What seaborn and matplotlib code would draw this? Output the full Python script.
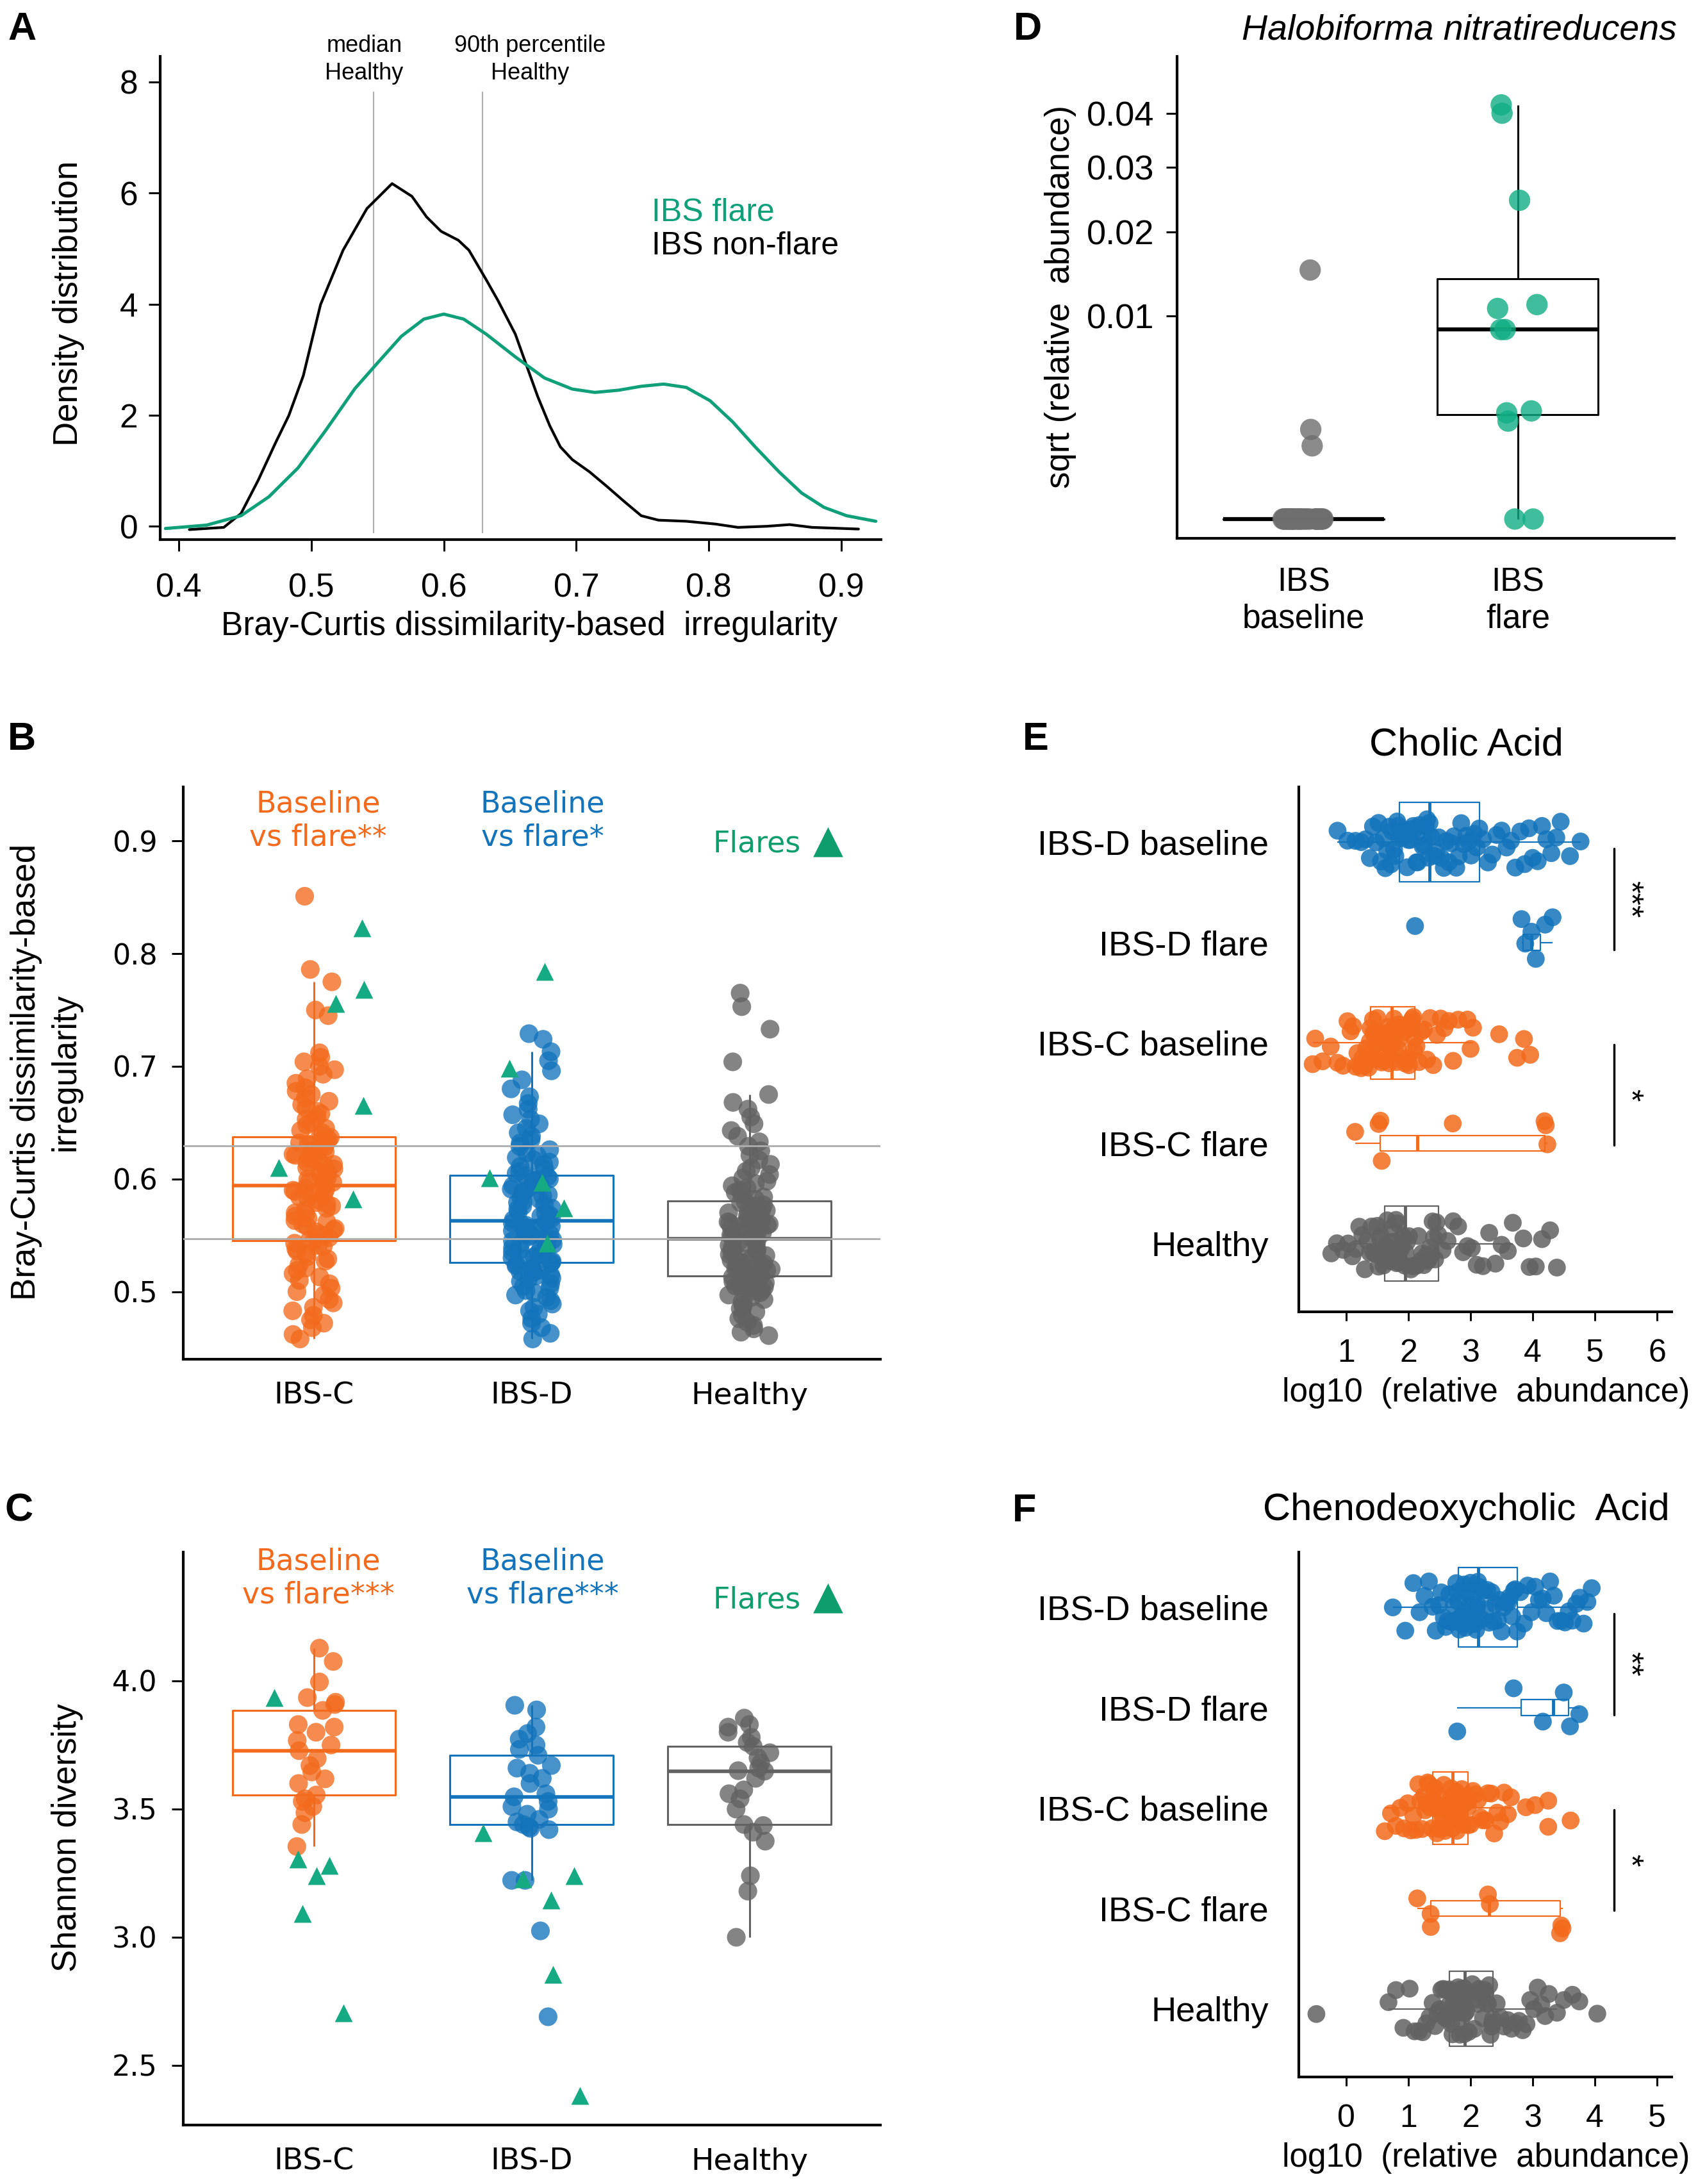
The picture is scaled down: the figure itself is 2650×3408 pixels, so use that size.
import numpy as np
import pandas as pd
import seaborn as sns
import matplotlib.pyplot as plt

W, H = 2650, 3408

ORANGE = '#F36A1C'
BLUE = '#1374BB'
GREY = '#626262'
GREEN = '#15AA82'
GREEN_TXT = '#0E9E6E'

# ---- A: density curves
nonflare_x = [0.408, 0.434, 0.447, 0.460, 0.473, 0.483, 0.494, 0.507, 0.524, 0.542, 0.561,
              0.576, 0.587, 0.598, 0.611, 0.619, 0.632, 0.641, 0.654, 0.663, 0.671, 0.680,
              0.688, 0.697, 0.710, 0.723, 0.736, 0.749, 0.762, 0.783, 0.805, 0.822, 0.844,
              0.861, 0.878, 0.913]
nonflare_y = [-0.06, -0.02, 0.23, 0.83, 1.50, 1.99, 2.71, 3.99, 4.97, 5.72, 6.17,
              5.94, 5.57, 5.31, 5.15, 4.97, 4.44, 4.06, 3.46, 2.86, 2.33, 1.81,
              1.43, 1.20, 0.98, 0.72, 0.45, 0.19, 0.11, 0.09, 0.04, -0.02, 0.0,
              0.03, -0.02, -0.05]
flare_x = [0.390, 0.421, 0.447, 0.468, 0.490, 0.511, 0.533, 0.550, 0.568, 0.585, 0.600,
           0.615, 0.632, 0.654, 0.676, 0.697, 0.714, 0.732, 0.749, 0.766, 0.783, 0.801,
           0.818, 0.835, 0.853, 0.870, 0.887, 0.904, 0.926]
flare_y = [-0.04, 0.02, 0.19, 0.53, 1.05, 1.73, 2.48, 2.94, 3.42, 3.73, 3.82,
           3.73, 3.46, 3.05, 2.67, 2.47, 2.41, 2.45, 2.52, 2.56, 2.50, 2.26,
           1.88, 1.43, 0.98, 0.60, 0.34, 0.19, 0.09]

# ---- B: Bray-Curtis irregularity
irr_groups = ['IBS-C', 'IBS-D', 'Healthy']
irr_ibsc = [0.458, 0.462, 0.468, 0.472, 0.475, 0.479, 0.483, 0.486, 0.49, 0.493, 0.497, 0.5,
            0.503, 0.507, 0.51, 0.513, 0.516, 0.519, 0.521, 0.524, 0.527, 0.529, 0.531, 0.534,
            0.536, 0.538, 0.54, 0.541, 0.543, 0.544, 0.546, 0.548, 0.55, 0.551, 0.553, 0.555,
            0.556, 0.558, 0.56, 0.562, 0.563, 0.565, 0.567, 0.569, 0.57, 0.572, 0.574, 0.576,
            0.578, 0.579, 0.581, 0.583, 0.584, 0.586, 0.587, 0.589, 0.59, 0.591, 0.592, 0.593,
            0.595, 0.597, 0.598, 0.6, 0.601, 0.603, 0.604, 0.606, 0.607, 0.609, 0.61, 0.612,
            0.613, 0.615, 0.616, 0.618, 0.619, 0.621, 0.622, 0.624, 0.625, 0.627, 0.628, 0.63,
            0.631, 0.632, 0.633, 0.635, 0.636, 0.637, 0.639, 0.641, 0.643, 0.645, 0.648, 0.65,
            0.653, 0.655, 0.658, 0.66, 0.663, 0.666, 0.669, 0.672, 0.675, 0.678, 0.681, 0.685,
            0.689, 0.693, 0.697, 0.7, 0.704, 0.708, 0.712, 0.745, 0.75, 0.775, 0.786, 0.851]
irr_ibsd = [0.458, 0.463, 0.468, 0.472, 0.476, 0.48, 0.483, 0.486, 0.489, 0.492, 0.495, 0.497,
            0.499, 0.501, 0.503, 0.505, 0.507, 0.509, 0.511, 0.512, 0.514, 0.515, 0.517, 0.518,
            0.519, 0.52, 0.521, 0.523, 0.524, 0.525, 0.526, 0.527, 0.529, 0.53, 0.531, 0.533,
            0.534, 0.535, 0.537, 0.538, 0.539, 0.541, 0.542, 0.543, 0.545, 0.546, 0.547, 0.549,
            0.55, 0.551, 0.552, 0.554, 0.555, 0.556, 0.557, 0.558, 0.559, 0.56, 0.561, 0.562,
            0.564, 0.565, 0.567, 0.568, 0.57, 0.571, 0.573, 0.574, 0.576, 0.577, 0.579, 0.58,
            0.582, 0.583, 0.585, 0.586, 0.588, 0.589, 0.591, 0.592, 0.594, 0.595, 0.596, 0.597,
            0.598, 0.599, 0.6, 0.601, 0.602, 0.603, 0.605, 0.607, 0.609, 0.611, 0.613, 0.615,
            0.617, 0.619, 0.621, 0.623, 0.626, 0.629, 0.632, 0.635, 0.638, 0.641, 0.645, 0.649,
            0.653, 0.657, 0.662, 0.667, 0.673, 0.68, 0.688, 0.696, 0.705, 0.713, 0.724, 0.729]
irr_healthy = [0.461, 0.464, 0.467, 0.47, 0.473, 0.476, 0.479, 0.482, 0.485, 0.487, 0.489, 0.491,
               0.493, 0.495, 0.497, 0.499, 0.5, 0.501, 0.502, 0.503, 0.504, 0.505, 0.506, 0.507,
               0.508, 0.509, 0.51, 0.511, 0.512, 0.513, 0.514, 0.515, 0.516, 0.517, 0.518, 0.519,
               0.52, 0.521, 0.522, 0.523, 0.524, 0.525, 0.526, 0.527, 0.528, 0.529, 0.531, 0.532,
               0.533, 0.535, 0.536, 0.537, 0.538, 0.539, 0.541, 0.542, 0.543, 0.544, 0.545, 0.546,
               0.548, 0.549, 0.55, 0.551, 0.552, 0.553, 0.555, 0.556, 0.557, 0.558, 0.559, 0.56,
               0.561, 0.562, 0.563, 0.564, 0.565, 0.566, 0.567, 0.568, 0.569, 0.57, 0.571, 0.572,
               0.573, 0.574, 0.576, 0.577, 0.579, 0.58, 0.582, 0.584, 0.586, 0.588, 0.59, 0.592,
               0.594, 0.596, 0.598, 0.601, 0.604, 0.607, 0.61, 0.613, 0.617, 0.621, 0.625, 0.629,
               0.633, 0.638, 0.643, 0.649, 0.655, 0.662, 0.668, 0.675, 0.704, 0.733, 0.753, 0.765]
irr_flare_ibsc = [0.823, 0.768, 0.756, 0.665, 0.61, 0.582]
irr_flare_ibsd = [0.784, 0.698, 0.597, 0.601, 0.574, 0.543]

# ---- C: Shannon diversity
shan_ibsc = [3.354, 3.44, 3.486, 3.51, 3.53, 3.54, 3.555, 3.6, 3.618, 3.645, 3.67, 3.697, 3.728,
             3.75, 3.768, 3.8, 3.82, 3.83, 3.885, 3.908, 3.917, 3.935, 3.996, 4.076, 4.128]
shan_ibsd = [2.69, 3.025, 3.222, 3.222, 3.42, 3.425, 3.43, 3.44, 3.45, 3.46, 3.48, 3.5, 3.51,
             3.53, 3.548, 3.56, 3.6, 3.62, 3.64, 3.66, 3.67, 3.71, 3.733, 3.75, 3.773, 3.795,
             3.82, 3.887, 3.905]
shan_healthy = [3.0, 3.18, 3.24, 3.375, 3.41, 3.436, 3.44, 3.5, 3.54, 3.56, 3.575, 3.62, 3.648,
                3.65, 3.66, 3.68, 3.7, 3.72, 3.745, 3.76, 3.78, 3.8, 3.82, 3.83, 3.855]
shan_flare_ibsc = [3.935, 3.305, 3.28, 3.24, 3.093, 2.706]
shan_flare_ibsd = [3.407, 3.24, 3.146, 3.228, 2.855, 2.383]

# ---- D: Halobiforma nitratireducens relative abundance
halo_groups = ['IBS\nbaseline', 'IBS\nflare']
halo_baseline = [0.01506, 0.00195, 0.0013, 0, 0, 0, 0, 0, 0, 0, 0, 0, 0, 0, 0, 0, 0, 0, 0, 0,
                 0, 0, 0, 0, 0, 0, 0, 0, 0, 0, 0, 0, 0, 0, 0, 0, 0, 0, 0]
halo_flare = [0.04166, 0.04, 0.02468, 0.01117, 0.01077, 0.00872, 0.00872, 0.00284, 0.00274,
              0.00233, 0, 0]

# ---- E / F: bile acids, log10 relative abundance
bile_order = ['IBS-D baseline', 'IBS-D flare', 'IBS-C baseline', 'IBS-C flare', 'Healthy']
cholic = {
    'IBS-D baseline': [0.86, 1.02, 1.15, 1.24, 1.31, 1.38, 1.43, 1.48, 1.52, 1.56, 1.6, 1.63, 1.66,
                       1.69, 1.72, 1.74, 1.77, 1.79, 1.82, 1.84, 1.86, 1.88, 1.9, 1.93, 1.95, 1.98,
                       2.0, 2.03, 2.05, 2.08, 2.1, 2.13, 2.15, 2.18, 2.2, 2.23, 2.25, 2.28, 2.3,
                       2.32, 2.34, 2.37, 2.41, 2.45, 2.49, 2.53, 2.57, 2.61, 2.65, 2.69, 2.73,
                       2.77, 2.81, 2.85, 2.89, 2.93, 2.97, 3.01, 3.06, 3.1, 3.14, 3.2, 3.28, 3.35,
                       3.42, 3.5, 3.58, 3.65, 3.72, 3.8, 3.87, 3.94, 4.0, 4.08, 4.15, 4.22, 4.3,
                       4.38, 4.45, 4.6, 4.77],
    'IBS-D flare': [2.107, 3.82, 3.88, 3.98, 4.05, 4.2, 4.32],
    'IBS-C baseline': [0.46, 0.5, 0.62, 0.75, 0.86, 0.95, 1.02, 1.07, 1.11, 1.15, 1.18, 1.21, 1.24,
                       1.26, 1.28, 1.3, 1.32, 1.34, 1.36, 1.38, 1.39, 1.41, 1.43, 1.44, 1.46, 1.48,
                       1.5, 1.51, 1.53, 1.55, 1.57, 1.58, 1.6, 1.62, 1.64, 1.65, 1.67, 1.69, 1.7,
                       1.72, 1.73, 1.75, 1.77, 1.79, 1.81, 1.83, 1.85, 1.87, 1.89, 1.91, 1.93,
                       1.95, 1.97, 1.99, 2.01, 2.03, 2.05, 2.06, 2.08, 2.09, 2.1, 2.13, 2.17, 2.21,
                       2.25, 2.3, 2.35, 2.4, 2.46, 2.52, 2.58, 2.65, 2.72, 2.8, 2.95, 3.0, 3.04,
                       3.46, 3.75, 3.86, 3.96],
    'IBS-C flare': [1.143, 1.521, 1.55, 1.571, 2.714, 4.19, 4.21, 4.236],
    'Healthy': [0.76, 0.85, 0.95, 1.03, 1.1, 1.16, 1.21, 1.26, 1.3, 1.34, 1.38, 1.41, 1.44, 1.47,
                1.5, 1.52, 1.54, 1.56, 1.58, 1.6, 1.62, 1.64, 1.66, 1.68, 1.7, 1.71, 1.73, 1.75,
                1.76, 1.78, 1.8, 1.81, 1.83, 1.84, 1.86, 1.88, 1.89, 1.91, 1.92, 1.94, 1.95,
                1.98, 2.01, 2.04, 2.07, 2.1, 2.13, 2.16, 2.19, 2.22, 2.25, 2.28, 2.31, 2.33,
                2.35, 2.37, 2.39, 2.41, 2.43, 2.45, 2.48, 2.55, 2.63, 2.72, 2.8, 2.88, 2.95,
                3.02, 3.1, 3.2, 3.3, 3.4, 3.5, 3.6, 3.68, 3.85, 3.95, 4.05, 4.15, 4.28, 4.39],
}
cdca = {
    'IBS-D baseline': [0.75, 0.95, 1.08, 1.18, 1.26, 1.33, 1.39, 1.44, 1.49, 1.53, 1.57, 1.6, 1.63,
                       1.66, 1.69, 1.71, 1.73, 1.75, 1.77, 1.79, 1.8, 1.82, 1.84, 1.85, 1.87, 1.89,
                       1.9, 1.92, 1.94, 1.95, 1.97, 1.99, 2.0, 2.02, 2.04, 2.05, 2.07, 2.09, 2.1,
                       2.11, 2.12, 2.15, 2.18, 2.21, 2.24, 2.27, 2.3, 2.34, 2.37, 2.4, 2.44, 2.47,
                       2.5, 2.53, 2.57, 2.6, 2.63, 2.67, 2.7, 2.72, 2.75, 2.8, 2.86, 2.92, 2.98,
                       3.04, 3.1, 3.16, 3.22, 3.28, 3.34, 3.4, 3.46, 3.52, 3.58, 3.64, 3.7, 3.76,
                       3.82, 3.88, 3.95],
    'IBS-D flare': [1.786, 2.693, 3.164, 3.5, 3.6, 3.75],
    'IBS-C baseline': [0.62, 0.72, 0.8, 0.87, 0.93, 0.99, 1.04, 1.08, 1.12, 1.16, 1.19, 1.22, 1.25,
                       1.27, 1.29, 1.31, 1.33, 1.35, 1.37, 1.38, 1.39, 1.41, 1.43, 1.44, 1.46,
                       1.48, 1.5, 1.52, 1.54, 1.55, 1.57, 1.59, 1.6, 1.62, 1.64, 1.65, 1.67, 1.68,
                       1.69, 1.7, 1.71, 1.73, 1.74, 1.75, 1.77, 1.78, 1.79, 1.8, 1.82, 1.83, 1.84,
                       1.86, 1.87, 1.88, 1.9, 1.91, 1.92, 1.94, 1.95, 1.96, 1.96, 2.0, 2.04, 2.08,
                       2.12, 2.16, 2.2, 2.24, 2.28, 2.33, 2.38, 2.43, 2.48, 2.54, 2.6, 2.65, 2.89,
                       3.04, 3.25, 3.25, 3.61],
    'IBS-C flare': [1.143, 1.357, 1.36, 2.28, 2.31, 3.44, 3.46, 3.48],
    'Healthy': [-0.48, 0.68, 0.8, 0.92, 1.02, 1.1, 1.17, 1.23, 1.29, 1.34, 1.39, 1.43, 1.47, 1.5,
                1.53, 1.56, 1.59, 1.61, 1.63, 1.65, 1.66, 1.68, 1.69, 1.71, 1.72, 1.73, 1.75,
                1.76, 1.77, 1.79, 1.8, 1.81, 1.83, 1.84, 1.85, 1.87, 1.88, 1.89, 1.9, 1.9, 1.91,
                1.94, 1.97, 2.0, 2.03, 2.06, 2.09, 2.12, 2.14, 2.16, 2.18, 2.2, 2.22, 2.24,
                2.26, 2.28, 2.3, 2.32, 2.34, 2.35, 2.36, 2.42, 2.48, 2.54, 2.6, 2.66, 2.72,
                2.78, 2.84, 2.9, 2.96, 3.02, 3.08, 3.14, 3.2, 3.26, 3.39, 3.5, 3.64, 3.75, 4.04],
}

# ------------------------------------------------------------------
sns.set_style('ticks')
plt.rcParams['font.family'] = ['Liberation Sans', 'DejaVu Sans']
plt.rcParams.update({
    'font.size': 36, 'axes.linewidth': 3, 'axes.edgecolor': 'black',
    'xtick.color': 'black', 'ytick.color': 'black', 'text.color': 'black',
    'axes.labelcolor': 'black', 'xtick.major.width': 2.2, 'ytick.major.width': 2.2,
})
WIDE = ['DejaVu Sans']   # the B/C panels use a wider lettering
np.random.seed(11)

fig = plt.figure(figsize=(W / 100, H / 100), dpi=100)


def add_ax(left, top, right, bottom):
    ax = fig.add_axes([left / W, 1 - bottom / H, (right - left) / W, (bottom - top) / H])
    sns.despine(ax=ax)
    return ax


def ftext(x, y, s, **kw):
    fig.text(x / W, 1 - y / H, s, **kw)


for lab, x, y in [('A', 12, 62), ('B', 12, 1170), ('C', 8, 2374),
                  ('D', 1582, 62), ('E', 1596, 1170), ('F', 1580, 2374)]:
    ftext(x, y, lab, fontsize=44, fontweight='bold', va='baseline')

healthy_median = np.median(irr_healthy)
healthy_p90 = np.percentile(irr_healthy, 90)

# ---------------- A
axA = add_ax(250, 88, 1375, 842)
axA.vlines([healthy_median, healthy_p90], -0.13, 7.83, color='#B0B0B0', lw=1.6, zorder=0)
sns.lineplot(x=nonflare_x, y=nonflare_y, color='black', linewidth=3, sort=False,
             estimator=None, ax=axA)
sns.lineplot(x=flare_x, y=flare_y, color='#0FA07A', linewidth=3.6, sort=False,
             estimator=None, ax=axA)
axA.set_xlim(0.386, 0.93)
axA.set_ylim(-0.24, 8.46)
axA.set_xticks([0.4, 0.5, 0.6, 0.7, 0.8, 0.9])
axA.set_yticks([0, 2, 4, 6, 8])
axA.tick_params(axis='both', length=13, labelsize=37)
axA.tick_params(axis='x', pad=24)
axA.tick_params(axis='y', pad=12)
axA.set_xlabel('Bray-Curtis dissimilarity-based  irregularity', fontsize=37, va='center')
axA.xaxis.set_label_coords(0.512, -0.18)
axA.set_ylabel('Density distribution', fontsize=38, va='center')
axA.yaxis.set_label_coords(-0.127, 0.489)
axA.text(0.540, 8.40, 'median\nHealthy', ha='center', va='center', fontsize=26, linespacing=1.3)
axA.text(0.665, 8.40, '90th percentile\nHealthy', ha='center', va='center', fontsize=26,
         linespacing=1.3)
axA.text(0.757, 5.64, 'IBS flare', color='#0FA07A', va='center', fontsize=36)
axA.text(0.757, 5.04, 'IBS non-flare', va='center', fontsize=36)


# ---------------- B and C
def irr_panel(ax, base, flares, ylim, yticks, ytl, ylabel, lab_pos, lab_y, stars, flare_y):
    df = pd.DataFrame({'group': ['IBS-C'] * len(base[0]) + ['IBS-D'] * len(base[1])
                       + ['Healthy'] * len(base[2]),
                       'value': base[0] + base[1] + base[2]})
    dff = pd.DataFrame({'group': ['IBS-C'] * len(flares[0]) + ['IBS-D'] * len(flares[1]),
                        'value': flares[0] + flares[1]})
    pal = {'IBS-C': ORANGE, 'IBS-D': BLUE, 'Healthy': GREY}
    sns.boxplot(data=df, x='group', y='value', hue='group', order=irr_groups, palette=pal,
                fill=False, saturation=1, width=0.75, linewidth=2.2, showfliers=False,
                showcaps=False, medianprops={'linewidth': 4}, legend=False, ax=ax)
    sns.stripplot(data=df, x='group', y='value', hue='group', order=irr_groups, palette=pal,
                  jitter=0.1, size=21, alpha=0.78, linewidth=0, legend=False, ax=ax)
    sns.stripplot(data=dff, x='group', y='value', order=irr_groups, color=GREEN, marker='^',
                  jitter=0.25, size=20, linewidth=0, ax=ax, zorder=6)
    ax.set_xlim(-0.6, 2.6)
    ax.set_ylim(*ylim)
    ax.set_yticks(yticks)
    ax.set_yticklabels(ytl, family=WIDE, fontsize=32)
    ax.set_xticks(range(3))
    ax.set_xticklabels(irr_groups, family=WIDE, fontsize=34)
    ax.tick_params(axis='y', length=13, pad=16)
    ax.tick_params(axis='x', length=0, pad=25)
    ax.set_xlabel('')
    ax.set_ylabel(ylabel, fontsize=38, va='center', linespacing=1.3)
    ax.yaxis.set_label_coords(lab_pos, 0.502)
    ax.text(0.02, lab_y, 'Baseline\nvs flare' + stars[0], color=ORANGE, ha='center',
            va='center', fontsize=33, family=WIDE)
    ax.text(1.05, lab_y, 'Baseline\nvs flare' + stars[1], color=BLUE, ha='center',
            va='center', fontsize=33, family=WIDE)
    ax.text(1.83, flare_y, 'Flares', color=GREEN_TXT, ha='left', va='baseline',
            fontsize=33, family=WIDE)
    ax.text(2.29, flare_y, '\u25B2', color=GREEN_TXT, ha='left', va='baseline',
            fontsize=44, family=WIDE)


axB = add_ax(286, 1228, 1374, 2121)
axB.axhline(healthy_median, color='#ADADAD', lw=2, zorder=5)
axB.axhline(healthy_p90, color='#ADADAD', lw=2, zorder=5)
irr_panel(axB, [irr_ibsc, irr_ibsd, irr_healthy], [irr_flare_ibsc, irr_flare_ibsd],
          (0.44, 0.948), [0.5, 0.6, 0.7, 0.8, 0.9], ['0.5', '0.6', '0.7', '0.8', '0.9'],
          'Bray-Curtis dissimilarity-based\nirregularity', -0.197, 0.918, ('**', '*'), 0.8903)

axC = add_ax(286, 2422, 1374, 3316)
irr_panel(axC, [shan_ibsc, shan_ibsd, shan_healthy], [shan_flare_ibsc, shan_flare_ibsd],
          (2.2675, 4.5025), [2.5, 3.0, 3.5, 4.0], ['2.5', '3.0', '3.5', '4.0'],
          'Shannon diversity', -0.166, 4.40, ('***', '***'), 4.283)

# ---------------- D
axD = add_ax(1837, 88, 2613, 840)
dfD = pd.DataFrame({'group': [halo_groups[0]] * len(halo_baseline)
                    + [halo_groups[1]] * len(halo_flare),
                    'abund': halo_baseline + halo_flare})
dfD['sqrt_abund'] = np.sqrt(dfD['abund'])
sns.boxplot(data=dfD, x='group', y='sqrt_abund', order=halo_groups, color='black', fill=False,
            saturation=1, width=0.75, linewidth=2.2, showfliers=False, showcaps=False,
            medianprops={'linewidth': 4.5}, ax=axD)
sns.stripplot(data=dfD, x='group', y='sqrt_abund', hue='group', order=halo_groups,
              palette={halo_groups[0]: '#6E6E6E', halo_groups[1]: '#10AE82'}, jitter=0.1,
              size=24, alpha=0.8, linewidth=0, legend=False, ax=axD)
axD.set_xlim(-0.59, 1.73)
axD.set_ylim(-0.0095, 0.228)
axD.set_yticks(np.sqrt([0.01, 0.02, 0.03, 0.04]))
axD.set_yticklabels(['0.01', '0.02', '0.03', '0.04'])
axD.tick_params(axis='y', length=12, pad=14, labelsize=39)
axD.tick_params(axis='x', length=0, pad=32, labelsize=37)
axD.set_xlabel('')
axD.set_ylabel('sqrt (relative  abundance)', fontsize=38, va='center')
axD.yaxis.set_label_coords(-0.2345, 0.501)
ftext(2617, 47, 'Halobiforma nitratireducens', style='italic', ha='right', va='center',
      fontsize=40)

# ---------------- E and F
bile_pal = {'IBS-D baseline': BLUE, 'IBS-D flare': BLUE, 'IBS-C baseline': ORANGE,
            'IBS-C flare': ORANGE, 'Healthy': GREY}
box_width = {'IBS-D baseline': 0.79, 'IBS-D flare': 0.16, 'IBS-C baseline': 0.72,
             'IBS-C flare': 0.15, 'Healthy': 0.75}


def bile_panel(ax, data, ticks, xlim, bar_x, sig):
    df = pd.DataFrame([(g, v) for g in bile_order for v in data[g]], columns=['group', 'log10'])
    for g in bile_order:
        sns.boxplot(data=df[df['group'] == g], x='log10', y='group', order=bile_order,
                    orient='h', color=bile_pal[g], fill=False, saturation=1, width=box_width[g],
                    linewidth=1.6, showfliers=False, showcaps=False,
                    medianprops={'linewidth': 3.5}, ax=ax)
    sns.stripplot(data=df, x='log10', y='group', hue='group', order=bile_order,
                  palette=bile_pal, orient='h', jitter=0.26, size=20, alpha=0.85, linewidth=0,
                  legend=False, ax=ax)
    ax.set_xlim(*xlim)
    ax.set_ylim(4.68, -0.55)
    ax.set_xticks(ticks)
    ax.tick_params(axis='y', length=0, pad=34, labelsize=39)
    ax.tick_params(axis='x', length=10, pad=20, labelsize=36)
    ax.set_ylabel('')
    ax.set_xlabel('log10  (relative  abundance)', fontsize=37, va='center')
    ax.xaxis.set_label_coords(0.502, -0.155)
    for (y0, y1), s in zip([(0.06, 1.07), (2.02, 3.02)], sig):
        ax.plot([bar_x, bar_x], [y0, y1], color='black', lw=2.5, clip_on=False)
        ax.text(bar_x + 0.23, (y0 + y1) / 2, s, rotation=270, ha='center', va='center',
                fontsize=36)


axE = add_ax(2027, 1228, 2609, 2047)
bile_panel(axE, cholic, [1, 2, 3, 4, 5, 6], (0.237, 6.237), 5.31, ('***', '*'))
ftext(2288, 1163, 'Cholic Acid', ha='center', va='center', fontsize=44)

axF = add_ax(2027, 2422, 2609, 3241)
bile_panel(axF, cdca, [0, 1, 2, 3, 4, 5], (-0.763, 5.237), 4.31, ('**', '*'))
ftext(2288, 2357, 'Chenodeoxycholic  Acid', ha='center', va='center', fontsize=43)

fig.savefig('out.png', dpi=100)
